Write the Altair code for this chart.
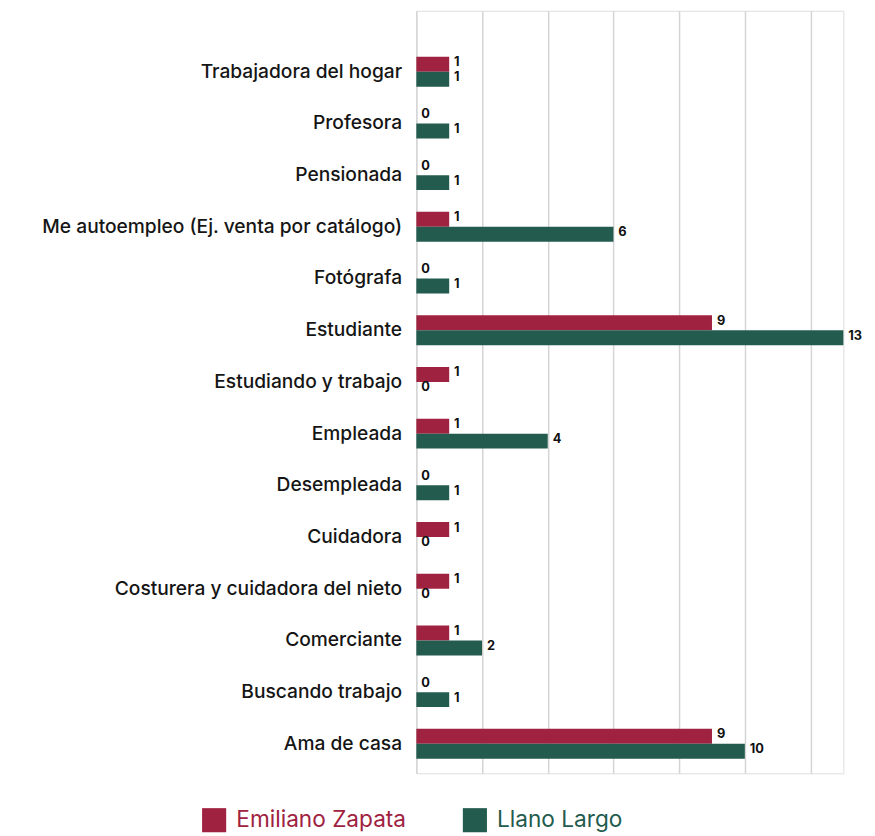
import altair as alt
import pandas as pd

categories = [
    "Trabajadora del hogar",
    "Profesora",
    "Pensionada",
    "Me autoempleo (Ej. venta por catálogo)",
    "Fotógrafa",
    "Estudiante",
    "Estudiando y trabajo",
    "Empleada",
    "Desempleada",
    "Cuidadora",
    "Costurera y cuidadora del nieto",
    "Comerciante",
    "Buscando trabajo",
    "Ama de casa",
]
emiliano_zapata = [1, 0, 0, 1, 0, 9, 1, 1, 0, 1, 1, 1, 0, 9]
llano_largo = [1, 1, 1, 6, 1, 13, 0, 4, 1, 0, 0, 2, 1, 10]
series = ["Emiliano Zapata", "Llano Largo"]
colors = ["#9F2241", "#235B4E"]
grid_values = [0, 2, 4, 6, 8, 10, 12]

rows = []
for c, a, b in zip(categories, emiliano_zapata, llano_largo):
    rows.append({"cat": c, "serie": series[0], "valor": a})
    rows.append({"cat": c, "serie": series[1], "valor": b})
df = pd.DataFrame(rows)

FONT = "Inter"

y_enc = alt.Y(
    "cat:N",
    sort=categories,
    title=None,
    scale=alt.Scale(paddingInner=0.42, paddingOuter=0.585, align=0.76),
    axis=alt.Axis(
        ticks=False, domain=False, labelFont=FONT, labelFontSize=19.5,
        labelFontWeight=500, labelColor="#151515", labelPadding=15,
        labelLimit=500,
    ),
)
yoff = alt.YOffset("serie:N", sort=series, scale=alt.Scale(paddingInner=0, paddingOuter=0))
x_enc = alt.X(
    "valor:Q",
    title=None,
    scale=alt.Scale(domain=[0, 13], nice=False, zero=True),
    axis=alt.Axis(values=grid_values, labels=False, ticks=False, domain=False,
                  grid=True, gridColor="#d4d4d4", gridWidth=1.5),
)

label_color_expr = "datum.value == '%s' ? '%s' : '%s'" % (series[0], colors[0], colors[1])

bars = alt.Chart(df).mark_bar().encode(
    y=y_enc,
    yOffset=yoff,
    x=x_enc,
    color=alt.Color(
        "serie:N",
        sort=series,
        scale=alt.Scale(domain=series, range=colors),
        legend=alt.Legend(
            title=None, orient="none", direction="horizontal",
            legendX=-218, legendY=810,
            symbolType="square", symbolSize=600, symbolStrokeWidth=0,
            symbolOpacity=1,
            labelFont=FONT, labelFontSize=23, labelFontWeight=400,
            labelOffset=10, columnPadding=57, labelLimit=400,
            labelColor=alt.ExprRef(expr=label_color_expr),
        ),
    ),
)

labels = alt.Chart(df).mark_text(
    align="left", baseline="middle", dx=5, dy=-2, font=FONT, fontSize=13,
    fontWeight="bold", color="#111111",
).encode(
    y=alt.Y("cat:N", sort=categories),
    yOffset=yoff,
    x=alt.X("valor:Q"),
    text=alt.Text("valor:Q"),
)

chart = (bars + labels).properties(
    width=434, height=775,
    padding={"left": 33, "top": -4, "right": 5, "bottom": 5},
).configure_view(stroke=None).configure(background="white")

chart.save("out.html", embed_options={"renderer": "svg", "actions": False})
